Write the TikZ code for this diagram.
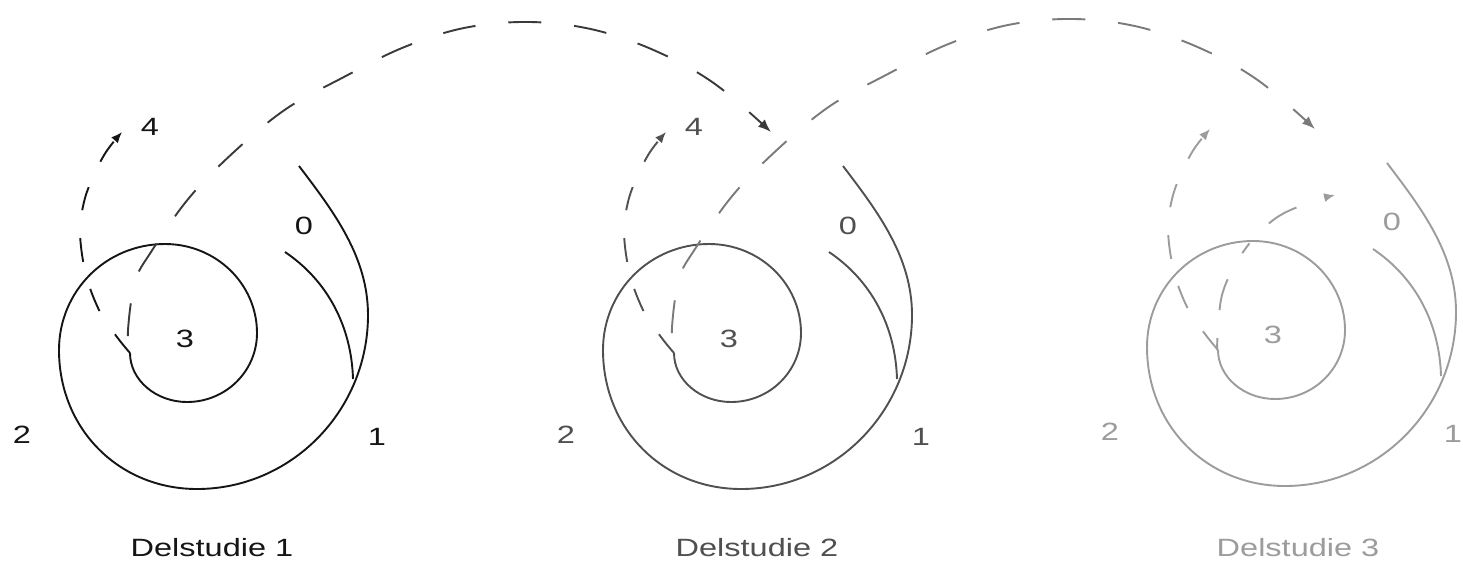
\documentclass[tikz,border=0pt]{standalone}
\usepackage{fontspec}
\setmainfont{Liberation Sans}[FakeStretch=1.3]
\usetikzlibrary{arrows.meta}
\definecolor{colA}{HTML}{151515}
\definecolor{colB}{HTML}{505050}
\definecolor{colC}{HTML}{9C9C9C}
\definecolor{arcA}{HTML}{3A3A3A}
\definecolor{arcB}{HTML}{7A7A7A}
\tikzset{
  spiralline/.style={line width=1.9pt},
  shortdash/.style={line width=1.9pt, dash pattern=on 24pt off 28pt},
  longdash/.style={line width=1.9pt, dash pattern=on 33pt off 33pt, dash phase=49pt},
  tipsmall/.style={-{Latex[length=11pt,width=9pt]}},
  tipbig/.style={-{Latex[length=13pt,width=10pt]}},
  lbl/.style={inner sep=0pt, font=\fontsize{25}{30}\selectfont},
}
\newcommand\drawspiral[3]{%
\begin{scope}[shift={(#1,#2)}, color=#3]
\draw[spiralline] (299,166) .. controls (334,212) and (368,257) .. (368,315)
  .. controls (368,411) and (291,489) .. (197,489)
  .. controls (119,489) and (59,429) .. (59,350)
  .. controls (59,291) and (106,244) .. (165,244)
  .. controls (216,244) and (257,284) .. (257,333)
  .. controls (257,371) and (226,402) .. (187,402)
  .. controls (156,402) and (130,380) .. (130,353);
\draw[spiralline] (285,252) .. controls (328,281) and (351.5,327) .. (353,379);
\draw[shortdash, tipsmall] plot[smooth, tension=0.6] coordinates {(130,353) (117,337) (100,312) (86,275) (80,233) (84,202) (93,177) (106,152) (122,132)};
\end{scope}}
\begin{document}
\begin{tikzpicture}[x=1pt,y=-1pt]
\clip (0,0) rectangle (1463,563);
\fill[white] (0,0) rectangle (1463,563);
% spirals
\drawspiral{0}{0}{colA}
\drawspiral{544}{0}{colB}
\drawspiral{1088}{-3}{colC}
% long dashed arcs
\draw[arcA, longdash, tipbig] plot[smooth, tension=0.6] coordinates {(130,353) (128,330) (135,282) (151,252) (189,198) (235,151) (286,109) (342,78) (402,48) (464,28) (530,22) (595,30) (658,52) (715,84) (771,132)};
\begin{scope}[shift={(544,-3)}]
\draw[arcB, longdash, tipbig] plot[smooth, tension=0.6] coordinates {(130,353) (128,330) (135,282) (151,252) (189,198) (235,151) (286,109) (342,78) (402,48) (464,28) (530,22) (595,30) (658,52) (715,84) (771,132)};
\end{scope}
\begin{scope}[shift={(1088,-3)}]
\draw[colC, line width=1.9pt, dash pattern=on 12pt off 28pt on 32pt off 30pt, tipsmall] plot[smooth, tension=0.6] coordinates {(129,353) (130,333) (134,298) (147,268) (166,241) (191,219) (223,205) (247,198)};
\end{scope}
% labels spiral 1
\node[lbl, colA] (a0) at (304,226) {0};
\node[lbl, colA] (a1) at (377,437) {1};
\node[lbl, colA] (a2) at (22,435) {2};
\node[lbl, colA] (a3) at (185,339) {3};
\node[lbl, colA] (a4) at (150,127) {4};
\node[lbl, colA] (ta) at (212,548) {Delstudie 1};
% labels spiral 2
\node[lbl, colB] (b0) at (848,226) {0};
\node[lbl, colB] (b1) at (921,437) {1};
\node[lbl, colB] (b2) at (566,435) {2};
\node[lbl, colB] (b3) at (729,339) {3};
\node[lbl, colB] (b4) at (694,127) {4};
\node[lbl, colB] (tb) at (757,548) {Delstudie 2};
% labels spiral 3
\node[lbl, colC] (c0) at (1392,222) {0};
\node[lbl, colC] (c1) at (1453,434) {1};
\node[lbl, colC] (c2) at (1110,432) {2};
\node[lbl, colC] (c3) at (1273,335) {3};
\node[lbl, colC] (tc) at (1298,548) {Delstudie 3};
\end{tikzpicture}
\end{document}
